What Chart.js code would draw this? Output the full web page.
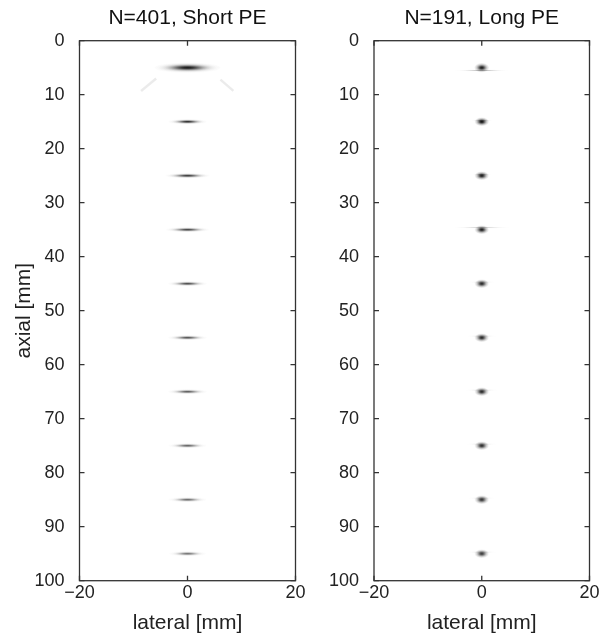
<!DOCTYPE html>
<html>
<head>
<meta charset="utf-8">
<script src="https://cdn.jsdelivr.net/npm/chart.js@4/dist/chart.umd.min.js"></script>
<style>
    html, body { margin: 0; padding: 0; background: #fff; }
    #wrap { position: relative; width: 608px; height: 634px; }
    #wrap canvas { position: absolute; left: 0; top: 0; }
</style>
</head>
<body>
<div id="wrap">
    <canvas id="shortChart" width="608" height="634"></canvas>
    <canvas id="longChart" width="608" height="634"></canvas>
</div>
<script>
// ===== Data =====
const xTicks = [-20, 0, 20];
const yTicks = [0, 10, 20, 30, 40, 50, 60, 70, 80, 90, 100];
const depth = [5, 15, 25, 35, 45, 55, 65, 75, 85, 95];
const lateral = [0, 0, 0, 0, 0, 0, 0, 0, 0, 0];

// N=401, short PE: elongated lateral blobs (half sizes in mm, darkness 0..1)
const shortHalfWidth = [6.1, 3.5, 4.1, 4.0, 3.6, 3.6, 3.6, 3.5, 3.5, 3.4];
const shortHalfHeight = [0.95, 0.5, 0.5, 0.48, 0.48, 0.48, 0.48, 0.48, 0.48, 0.48];
const shortLevel = [0.97, 0.88, 0.82, 0.78, 0.75, 0.72, 0.68, 0.65, 0.62, 0.58];
// faint side lobes next to the first target
const lobeLeftX = [-8.6, -5.8];
const lobeLeftY = [9.3, 7.0];
const lobeRightX = [6.1, 8.5];
const lobeRightY = [7.2, 9.3];

// N=191, long PE: compact dots plus faint lateral streaks
const longHalfWidth = [1.35, 1.3, 1.3, 1.3, 1.3, 1.3, 1.3, 1.3, 1.3, 1.3];
const longHalfHeight = [0.85, 0.8, 0.8, 0.8, 0.8, 0.8, 0.8, 0.8, 0.8, 0.8];
const longLevel = [0.95, 1.0, 0.95, 0.95, 0.9, 0.9, 0.9, 0.88, 0.85, 0.82];
const streakHalfWidth = [5.0, 1.9, 1.7, 5.3, 2.5, 2.8, 3.1, 2.9, 2.5, 2.8];
const streakDepth = [5.5, 14.8, 24.8, 34.6, 44.7, 54.7, 64.7, 74.7, 84.7, 94.7];
const streakLevel = [0.3, 0.3, 0.3, 0.2, 0.2, 0.2, 0.2, 0.2, 0.2, 0.2];

Chart.defaults.font.family = '"Liberation Sans", Arial, sans-serif';
Chart.defaults.color = "#222";

// ===== Plugins =====
const psfPlugin = {
    id: "psf",
    afterDatasetsDraw(chart) {
        const { ctx, chartArea, scales } = chart;
        ctx.save();
        ctx.beginPath();
        ctx.rect(chartArea.left, chartArea.top, chartArea.right - chartArea.left, chartArea.bottom - chartArea.top);
        ctx.clip();
        chart.data.datasets.forEach(ds => {
            if (!ds.psf) return;
            ds.data.forEach(p => {
                const cx = scales.x.getPixelForValue(p.x);
                const cy = scales.y.getPixelForValue(p.y);
                const rx = Math.abs(scales.x.getPixelForValue(p.x + p.w) - cx);
                const ry = Math.abs(scales.y.getPixelForValue(p.y + p.h) - cy);
                ctx.save();
                ctx.translate(cx, cy);
                ctx.scale(rx, ry);
                const g = ctx.createRadialGradient(0, 0, 0, 0, 0, 1);
                for (let i = 0; i <= 10; i++) {
                    const t = i / 10;
                    g.addColorStop(t, "rgba(20,20,20," + (p.a * Math.exp(-ds.falloff * t * t)).toFixed(3) + ")");
                }
                ctx.fillStyle = g;
                ctx.beginPath();
                ctx.arc(0, 0, 1, 0, Math.PI * 2);
                ctx.fill();
                ctx.restore();
            });
        });
        ctx.restore();
    }
};

const framePlugin = {
    id: "frame",
    afterDraw(chart) {
        const { ctx, chartArea: a, scales } = chart;
        const len = 5;
        ctx.save();
        ctx.strokeStyle = "#333";
        ctx.lineWidth = 1.3;
        ctx.strokeRect(a.left, a.top, a.right - a.left, a.bottom - a.top);
        ctx.beginPath();
        xTicks.forEach(v => {
            const px = scales.x.getPixelForValue(v);
            ctx.moveTo(px, a.bottom); ctx.lineTo(px, a.bottom - len);
            ctx.moveTo(px, a.top); ctx.lineTo(px, a.top + len);
        });
        yTicks.forEach(v => {
            const py = scales.y.getPixelForValue(v);
            ctx.moveTo(a.left, py); ctx.lineTo(a.left + len, py);
            ctx.moveTo(a.right, py); ctx.lineTo(a.right - len, py);
        });
        ctx.stroke();
        ctx.restore();
    }
};

// ===== Chart builder =====
function makeChart(id, title, datasets, padLeft, padRight, showYTitle) {
    return new Chart(document.getElementById(id), {
        type: "scatter",
        data: { datasets: datasets },
        options: {
            responsive: false,
            animation: false,
            devicePixelRatio: 1,
            events: [],
            layout: { padding: { left: padLeft, right: padRight, top: 0, bottom: 0 } },
            plugins: {
                legend: { display: false },
                tooltip: { enabled: false },
                title: {
                    display: true,
                    text: title,
                    fullSize: false,
                    color: "#111",
                    font: { size: 21, weight: "normal" },
                    padding: { top: 6, bottom: 9.5 }
                }
            },
            scales: {
                x: {
                    type: "linear",
                    min: -20,
                    max: 20,
                    afterBuildTicks: s => { s.ticks = xTicks.map(v => ({ value: v })); },
                    afterFit: s => { s.height = 53.3; },
                    grid: { display: false },
                    border: { display: false },
                    ticks: {
                        padding: -6,
                        maxRotation: 0,
                        font: { size: 18 },
                        color: "#222",
                        callback: v => String(v).replace("-", "\u2212")
                    },
                    title: {
                        display: true,
                        text: "lateral [mm]",
                        color: "#222",
                        font: { size: 21 },
                        padding: { top: 0, bottom: -1.5 }
                    }
                },
                y: {
                    type: "linear",
                    reverse: true,
                    min: 0,
                    max: 100,
                    afterBuildTicks: s => { s.ticks = yTicks.map(v => ({ value: v })); },
                    afterFit: s => { s.width = 79.5; },
                    grid: { display: false },
                    border: { display: false },
                    ticks: { padding: 7, font: { size: 18 }, color: "#222" },
                    title: {
                        display: showYTitle,
                        text: "axial [mm]",
                        color: "#222",
                        font: { size: 21 },
                        padding: { top: 12, bottom: 0 }
                    }
                }
            }
        },
        plugins: [psfPlugin, framePlugin]
    });
}

// ===== Short PE =====
const shortPoints = depth.map((d, i) => ({
    x: lateral[i], y: d, w: shortHalfWidth[i], h: shortHalfHeight[i], a: shortLevel[i]
}));
makeChart("shortChart", "N=401, Short PE", [
    {
        type: "line", showLine: true, pointRadius: 0, borderWidth: 2.5,
        borderColor: "rgba(0,0,0,0.08)",
        data: lobeLeftX.map((x, i) => ({ x: x, y: lobeLeftY[i] }))
    },
    {
        type: "line", showLine: true, pointRadius: 0, borderWidth: 2.5,
        borderColor: "rgba(0,0,0,0.08)",
        data: lobeRightX.map((x, i) => ({ x: x, y: lobeRightY[i] }))
    },
    { psf: true, falloff: 4.5, pointRadius: 0, data: shortPoints }
], 0, 608 - 295.5, true);

// ===== Long PE =====
const streakPoints = depth.map((d, i) => ({
    x: lateral[i], y: streakDepth[i], w: streakHalfWidth[i], h: 0.2, a: streakLevel[i]
}));
const longPoints = depth.map((d, i) => ({
    x: lateral[i], y: d, w: longHalfWidth[i], h: longHalfHeight[i], a: longLevel[i]
}));
makeChart("longChart", "N=191, Long PE", [
    { psf: true, falloff: 4.5, pointRadius: 0, data: streakPoints },
    { psf: true, falloff: 3.0, pointRadius: 0, data: longPoints }
], 374 - 79.5, 608 - 589.5, false);
</script>
</body>
</html>
